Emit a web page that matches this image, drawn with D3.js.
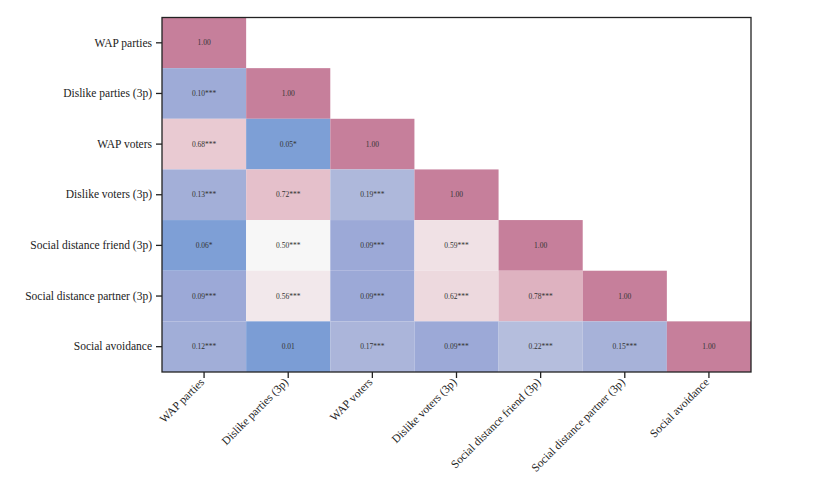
<!DOCTYPE html>
<html><head><meta charset="utf-8">
<script src="https://cdn.jsdelivr.net/npm/d3@7"></script>
<style>body{margin:0;background:#fff}svg{display:block}text{font-family:"Liberation Serif","DejaVu Serif",serif}</style>
</head><body><svg id="c" width="818" height="491"></svg>
<script>
const variables = ["WAP parties","Dislike parties (3p)","WAP voters","Dislike voters (3p)","Social distance friend (3p)","Social distance partner (3p)","Social avoidance"];
// lower-triangle correlations, row by row (row i has i+1 values)
const corrValues = [
  [1.00],
  [0.10,1.00],
  [0.68,0.05,1.00],
  [0.13,0.72,0.19,1.00],
  [0.06,0.50,0.09,0.59,1.00],
  [0.09,0.56,0.09,0.62,0.78,1.00],
  [0.12,0.01,0.17,0.09,0.22,0.15,1.00]
];
const corrStars = [
  [""],
  ["***",""],
  ["***","*",""],
  ["***","***","***",""],
  ["*","***","***","***",""],
  ["***","***","***","***","***",""],
  ["***","","***","***","***","***",""]
];
const colorStops = [0,0.065,0.09,0.2,0.5,0.7,1];
const colorRange = ["#7b9dd5","#7e9fd6","#9ca9d7","#b0badb","#f7f7f7","#e7c5ce","#c67f9b"];

const svg = d3.select("#c");
const m = {l:162, t:17.5, r:751, b:372};
const x = d3.scaleBand().domain(variables).range([m.l, m.r]);
const y = d3.scaleBand().domain(variables).range([m.t, m.b]);
const color = d3.scaleLinear().domain(colorStops).range(colorRange);

const cells = [];
corrValues.forEach((row,i)=>row.forEach((v,j)=>cells.push({r:variables[i],c:variables[j],v,s:corrStars[i][j]})));

svg.selectAll("rect.cell").data(cells).join("rect").attr("class","cell")
  .attr("x",d=>x(d.c)).attr("y",d=>y(d.r))
  .attr("width",x.bandwidth()).attr("height",y.bandwidth())
  .attr("fill",d=>color(d.v));

svg.selectAll("text.val").data(cells).join("text").attr("class","val")
  .attr("x",d=>x(d.c)+x.bandwidth()/2).attr("y",d=>y(d.r)+y.bandwidth()/2)
  .attr("text-anchor","middle").attr("dominant-baseline","central")
  .attr("font-size","7.5px").attr("fill","#333")
  .text(d=>d3.format(".2f")(d.v)+d.s);

svg.append("rect").attr("x",m.l).attr("y",m.t).attr("width",m.r-m.l).attr("height",m.b-m.t)
  .attr("fill","none").attr("stroke","#222").attr("stroke-width",1.3);

const yAxis = svg.append("g").attr("transform",`translate(${m.l},0)`)
  .call(d3.axisLeft(y).tickSize(6).tickPadding(4));
yAxis.select(".domain").remove();
yAxis.selectAll("line").attr("stroke","#222").attr("stroke-width",1.3);
yAxis.selectAll("text").attr("font-size","11.5px").attr("fill","#222")
  .style("font-family","'Liberation Serif',serif");

const xAxis = svg.append("g").attr("transform",`translate(0,${m.b})`)
  .call(d3.axisBottom(x).tickSize(6).tickPadding(4));
xAxis.select(".domain").remove();
xAxis.selectAll("line").attr("stroke","#222").attr("stroke-width",1.3);
xAxis.selectAll("text").attr("font-size","11.5px").attr("fill","#222")
  .style("font-family","'Liberation Serif',serif")
  .attr("text-anchor","end").attr("dy","0.35em")
  .attr("transform","translate(-2,8) rotate(-45)").attr("x",0).attr("y",0);
</script></body></html>
